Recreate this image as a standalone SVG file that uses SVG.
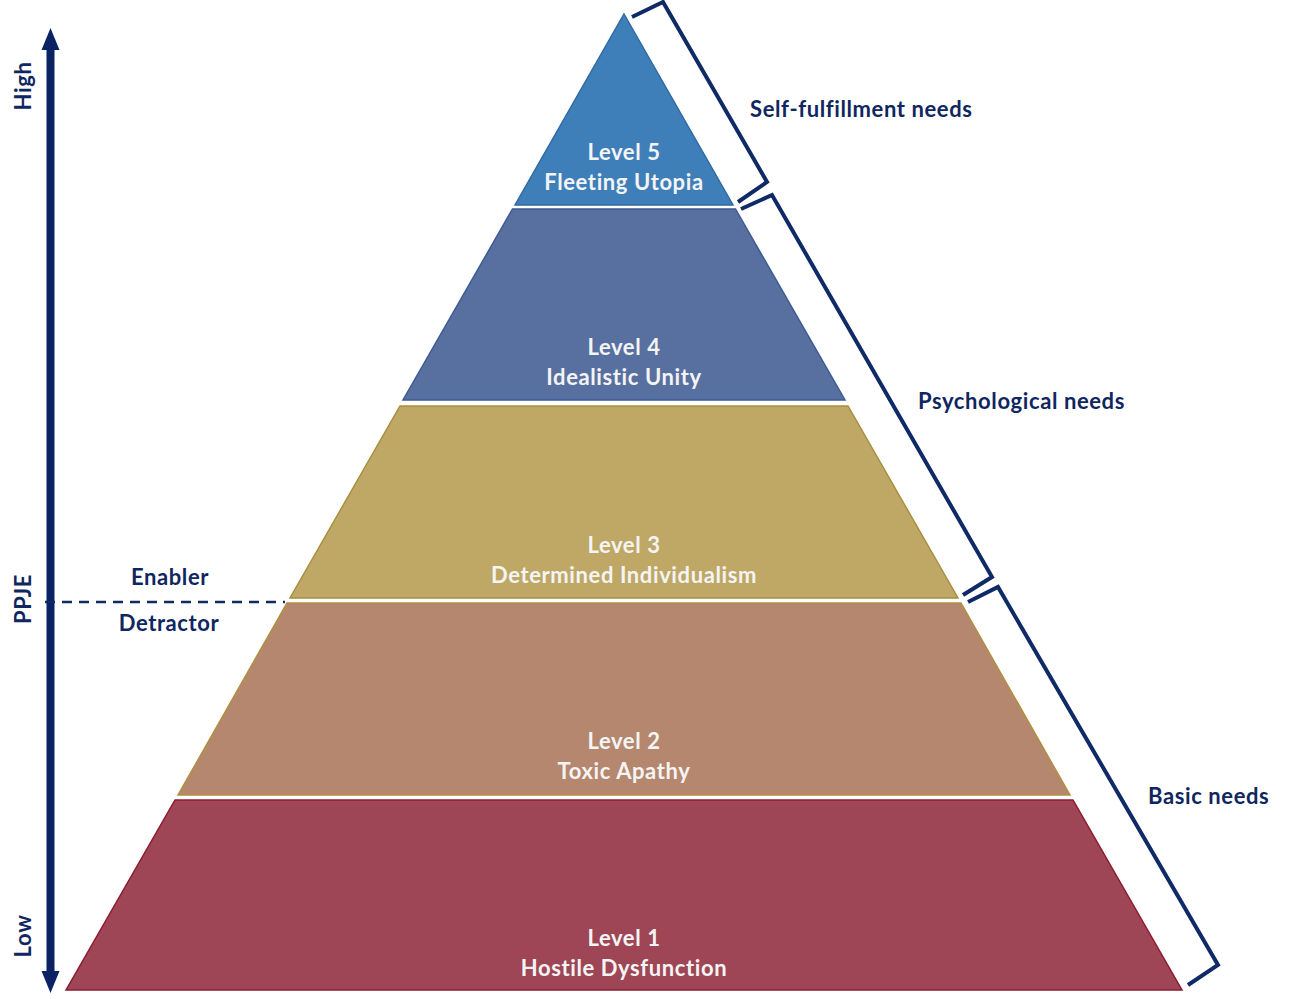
<svg xmlns="http://www.w3.org/2000/svg" width="1290" height="999" viewBox="0 0 1290 999">
<style>
.lvl{font-family:Lato,"Liberation Sans",sans-serif;font-weight:bold;font-size:22px;letter-spacing:0.6px;fill:#f4f4f4;text-anchor:middle}
.lab{font-family:Lato,"Liberation Sans",sans-serif;font-weight:bold;font-size:22px;letter-spacing:0.6px;fill:#0f2660}
.mid{text-anchor:middle}
.br{fill:none;stroke:#0f2a66;stroke-width:4;stroke-linejoin:miter}
</style>
<rect width="1290" height="999" fill="#ffffff"/>
<g id="level5">
<polygon points="624,14 733,205 515,205" fill="#3f7fb9" stroke="#2f6aa3" stroke-width="1.5"/>
<text class="lvl" x="624" y="160">Level 5</text>
<text class="lvl" x="624" y="190">Fleeting Utopia</text>
</g>
<g id="level4">
<polygon points="512.5,209 735.5,209 845,400 403,400" fill="#5870a0" stroke="#3e5a93" stroke-width="1.5"/>
<text class="lvl" x="624" y="355">Level 4</text>
<text class="lvl" x="624" y="385">Idealistic Unity</text>
</g>
<g id="level3">
<polygon points="400,406 848,406 958,598 290,598" fill="#bfa866" stroke="#a88f3e" stroke-width="1.5"/>
<text class="lvl" x="624" y="553">Level 3</text>
<text class="lvl" x="624" y="583">Determined Individualism</text>
</g>
<g id="level2">
<polygon points="287,603 961,603 1070,795 178,795" fill="#b5876f" stroke="#b0903f" stroke-width="1.5"/>
<text class="lvl" x="624" y="749">Level 2</text>
<text class="lvl" x="624" y="779">Toxic Apathy</text>
</g>
<g id="level1">
<polygon points="175,800 1073,800 1182,990 66,990" fill="#9e4656" stroke="#8c1c30" stroke-width="1.5"/>
<text class="lvl" x="624" y="946">Level 1</text>
<text class="lvl" x="624" y="976">Hostile Dysfunction</text>
</g>
<g id="axis">
<line x1="50.5" y1="48" x2="50.5" y2="975" stroke="#0b2265" stroke-width="8"/>
<polygon points="50.5,28 41.5,50 59.5,50" fill="#0b2265"/>
<polygon points="50.5,993 41.5,971 59.5,971" fill="#0b2265"/>
<text class="lab mid" transform="translate(31,86) rotate(-90)">High</text>
<text class="lab mid" transform="translate(31,599) rotate(-90)">PPJE</text>
<text class="lab mid" transform="translate(31,936) rotate(-90)">Low</text>
</g>
<g id="threshold">
<line x1="45" y1="602" x2="285" y2="602" stroke="#0f2a66" stroke-width="2.5" stroke-dasharray="10,7"/>
<text class="lab mid" x="170" y="585">Enabler</text>
<text class="lab mid" x="169" y="631">Detractor</text>
</g>
<g id="brackets">
<polyline class="br" points="632,17 663,2 767,182 738,202"/>
<polyline class="br" points="741,209 772,195 992,577 963,595"/>
<polyline class="br" points="968,602 998,587 1218,965 1188,985"/>
</g>
<g id="groups">
<text class="lab" x="750" y="117">Self-fulfillment needs</text>
<text class="lab" x="918" y="409">Psychological needs</text>
<text class="lab" x="1148" y="804">Basic needs</text>
</g>
</svg>
